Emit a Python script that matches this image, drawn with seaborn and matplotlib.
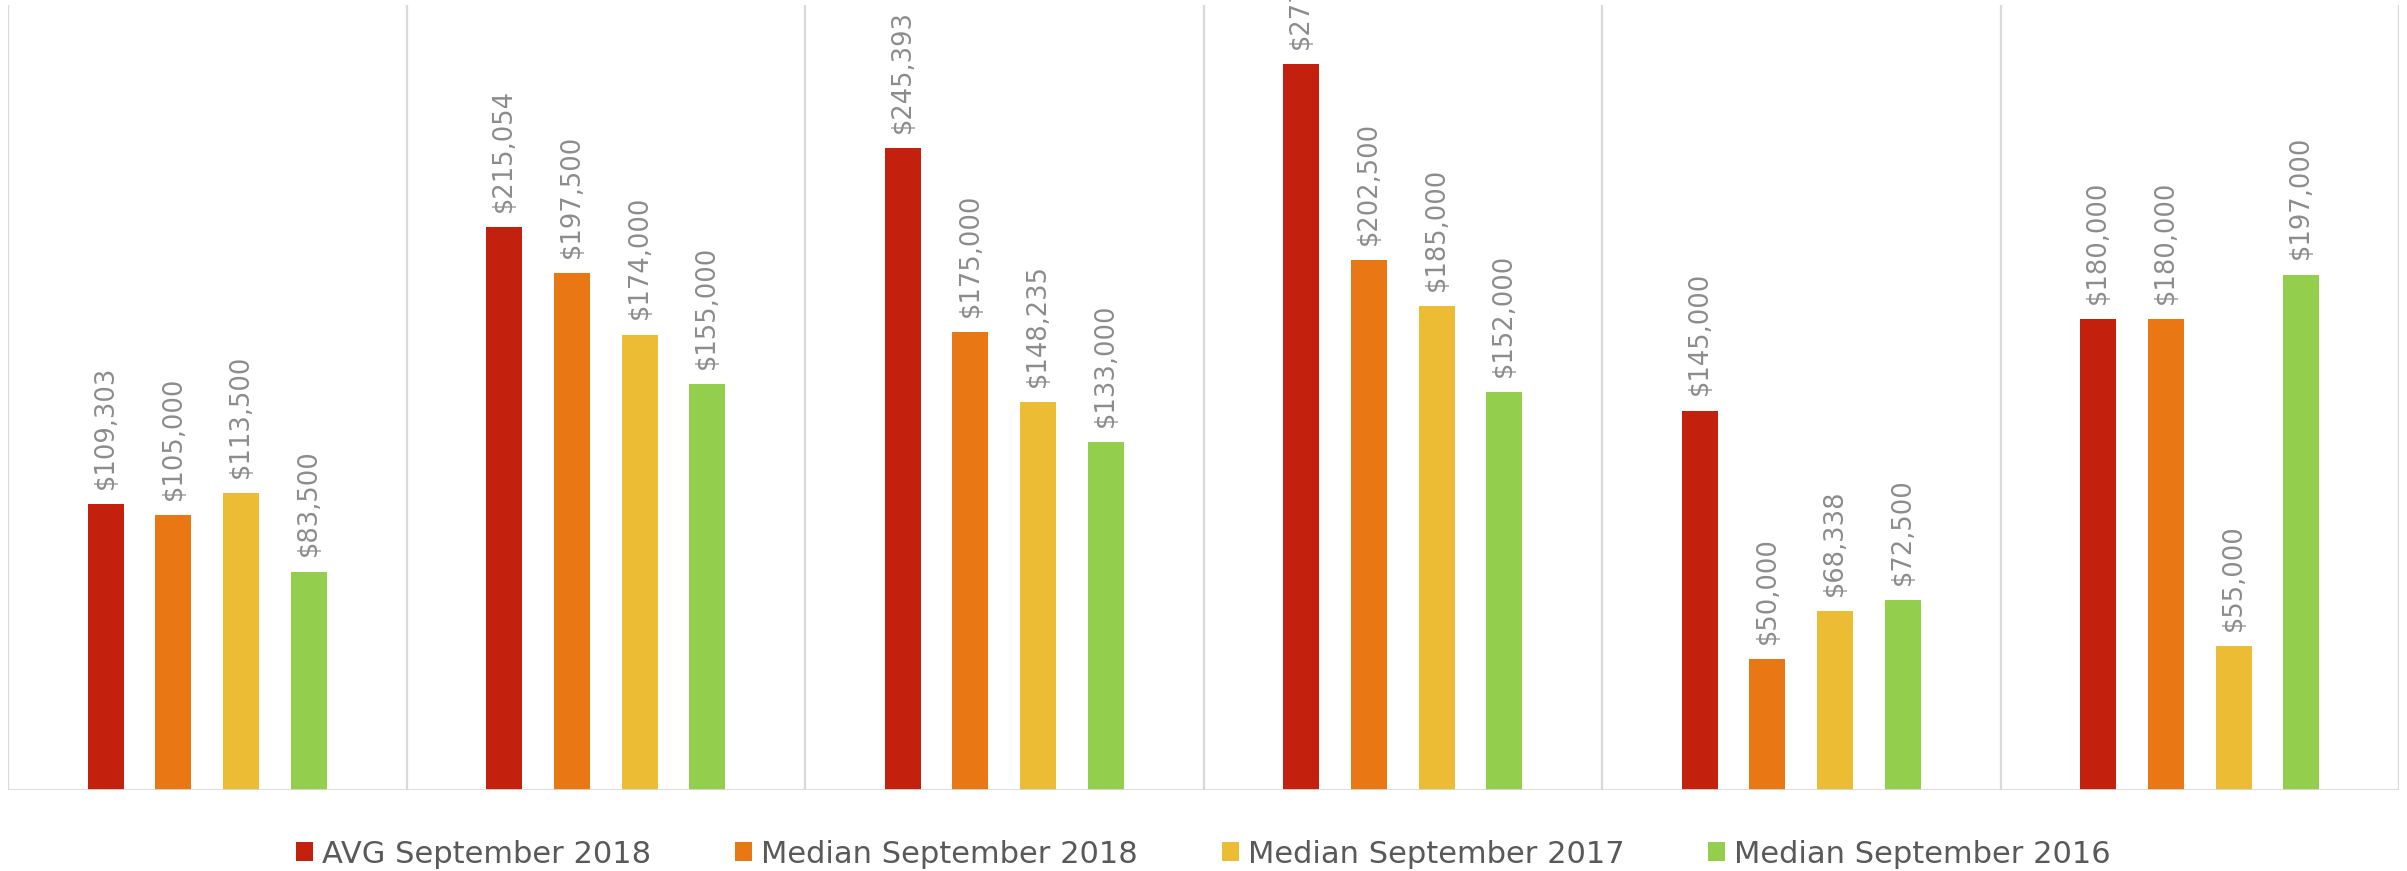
import matplotlib
matplotlib.use("Agg")
import matplotlib.pyplot as plt
import seaborn as sns
import pandas as pd

groups = ["Group 1", "Group 2", "Group 3", "Group 4", "Group 5", "Group 6"]
series = ["AVG September 2018", "Median September 2018", "Median September 2017", "Median September 2016"]
avg_sep_2018 = [109303, 215054, 245393, 277500, 145000, 180000]
median_sep_2018 = [105000, 197500, 175000, 202500, 50000, 180000]
median_sep_2017 = [113500, 174000, 148235, 185000, 68338, 55000]
median_sep_2016 = [83500, 155000, 133000, 152000, 72500, 197000]
colors = ["#C3200E", "#E97714", "#EBBC34", "#93CF4C"]

values = [avg_sep_2018, median_sep_2018, median_sep_2017, median_sep_2016]
rows = []
for s, vals in zip(series, values):
    for g, v in zip(groups, vals):
        rows.append({"group": g, "series": s, "value": v})
df = pd.DataFrame(rows)

sns.set_theme(style="white")
plt.rcParams["font.family"] = ["DejaVu Sans"]

fig = plt.figure(figsize=(24.07, 8.71), dpi=100)
ax = fig.add_axes([8 / 2407, 81 / 871, 2391 / 2407, 785 / 871])

sns.barplot(data=df, x="group", y="value", hue="series", order=groups,
            hue_order=series, palette=colors, saturation=1, width=0.68, gap=0.47,
            linewidth=0, ax=ax, legend=False)

for cont, vals in zip(ax.containers, values):
    ax.bar_label(cont, labels=[f"${v:,.0f}" for v in vals], rotation=90,
                 padding=11, fontsize=18.5, color="#8C8C8C", clip_on=False)

ax.set_xlim(-0.5, 5.5)
ax.set_ylim(0, 300000)
for xv in [i - 0.5 for i in range(7)]:
    ax.axvline(xv, color="#D9D9D9", lw=1.6, zorder=0)
ax.axhline(0, color="#D9D9D9", lw=2.0, zorder=3)
for sp in ax.spines.values():
    sp.set_visible(False)
ax.set_xticks([])
ax.set_yticks([])
ax.set_xlabel("")
ax.set_ylabel("")

from matplotlib.patches import Patch
handles = [Patch(facecolor=c, edgecolor="none") for c in colors]
fig.legend(handles, series, loc="center", bbox_to_anchor=(0.5, 17 / 871), ncol=4,
           frameon=False, fontsize=22, labelcolor="#595959",
           handlelength=0.55, handleheight=0.55, handletextpad=0.3,
           columnspacing=2.75)

fig.savefig("out.png", dpi=100)
